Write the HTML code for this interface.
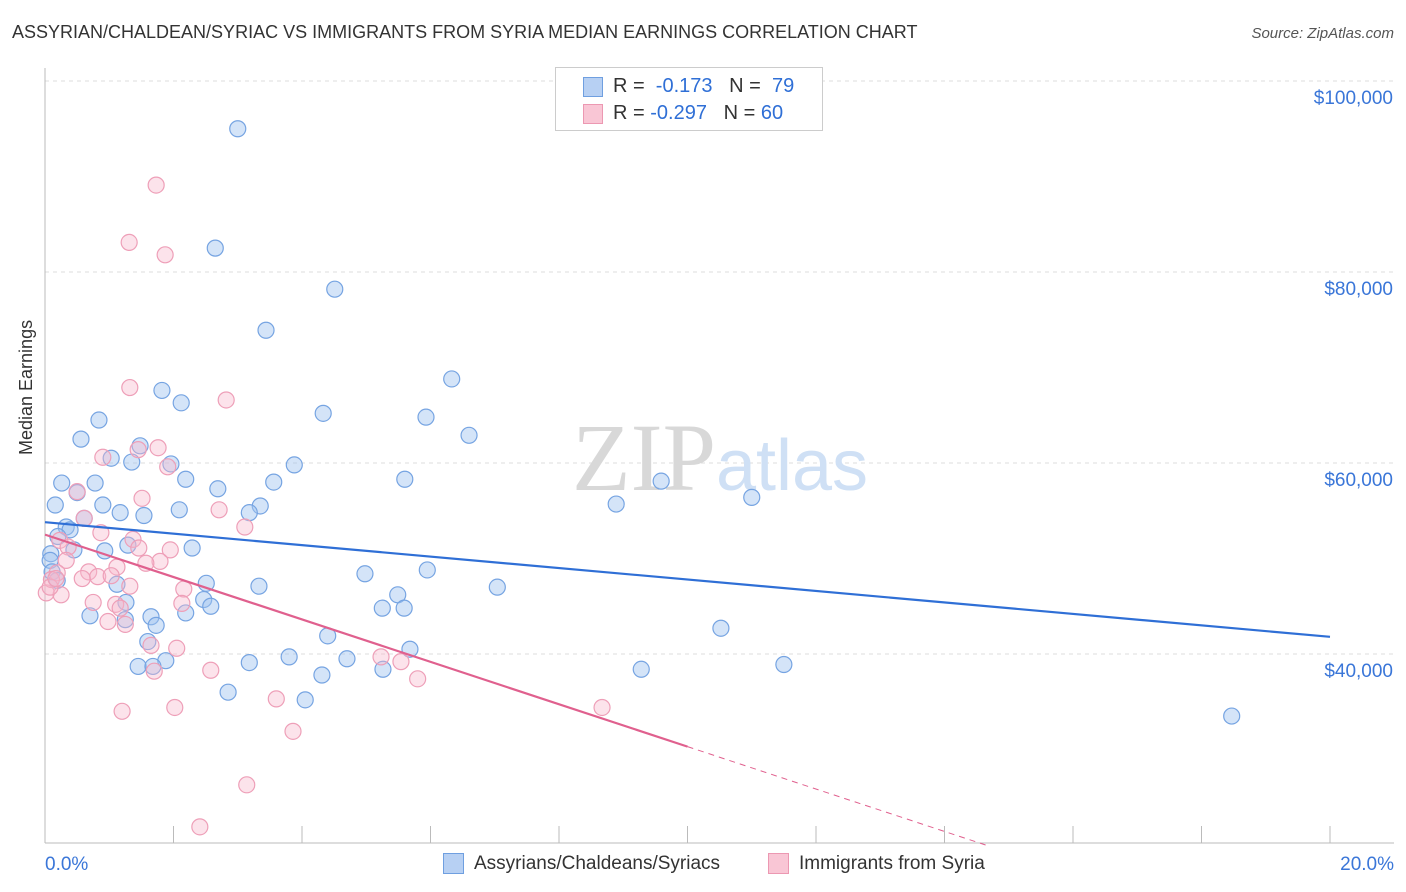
<!DOCTYPE html>
<html><head><meta charset="utf-8"><style>
body{margin:0;background:#fff;font-family:"Liberation Sans",sans-serif;}
#wrap{position:relative;width:1406px;height:892px;overflow:hidden;}
.t{position:absolute;white-space:nowrap;}
</style></head><body>
<div id="wrap">
<div class="t" style="left:12px;top:22px;font-size:18px;color:#333;">ASSYRIAN/CHALDEAN/SYRIAC VS IMMIGRANTS FROM SYRIA MEDIAN EARNINGS CORRELATION CHART</div>
<div class="t" style="right:12px;top:25px;font-size:15px;color:#555;font-style:italic;">Source: ZipAtlas.com</div>
<div class="t" style="left:16px;top:455px;font-size:18px;color:#333;transform:rotate(-90deg);transform-origin:0 0;">Median Earnings</div>
<svg id="svg" width="1406" height="892" style="position:absolute;left:0;top:0"></svg>
<div class="t" style="left:555px;top:67px;width:266px;height:62px;border:1px solid #ccc;background:#fff;">
 <div style="position:absolute;left:27px;top:9px;width:18px;height:18px;background:#b7d0f3;border:1px solid #6f9fe0;"></div>
 <div style="position:absolute;left:27px;top:36px;width:18px;height:18px;background:#f9c6d5;border:1px solid #ec98b2;"></div>
 <div class="t" style="left:57px;top:7px;font-size:20px;color:#333;">R = &nbsp;<span style="color:#2f6fd6">-0.173</span> &nbsp;&nbsp;N = &nbsp;<span style="color:#2f6fd6">79</span></div>
 <div class="t" style="left:57px;top:34px;font-size:20px;color:#333;">R = <span style="color:#2f6fd6">-0.297</span> &nbsp;&nbsp;N = <span style="color:#2f6fd6">60</span></div>
</div>
<div style="position:absolute;left:443px;top:853px;width:19px;height:19px;background:#b7d0f3;border:1px solid #6f9fe0;"></div>
<div class="t" style="left:474px;top:853px;font-size:19px;color:#333;">Assyrians/Chaldeans/Syriacs</div>
<div style="position:absolute;left:768px;top:853px;width:19px;height:19px;background:#f9c6d5;border:1px solid #ec98b2;"></div>
<div class="t" style="left:799px;top:853px;font-size:19px;color:#333;">Immigrants from Syria</div>
</div>
<script>
const yTicks=[40,60,80,100];
const yTickLabels=["$40,000","$60,000","$80,000","$100,000"];
const xTickVals=[0,2,4,6,8,10,12,14,16,18,20];
const blueX=[3.00,2.65,4.51,3.44,6.33,1.82,2.12,4.33,5.93,0.84,6.60,0.56,1.48,1.03,1.35,1.96,3.88,2.19,5.60,9.59,0.26,0.78,3.56,2.69,0.50,11.00,0.16,0.90,8.89,3.35,2.09,1.17,1.54,3.18,0.61,0.33,0.39,0.20,1.29,2.29,0.45,0.93,0.09,4.98,5.95,5.49,2.51,3.33,7.04,1.12,1.26,2.47,2.58,5.25,5.59,2.19,0.70,1.65,1.25,1.73,10.52,4.40,1.60,5.68,3.80,4.70,1.88,3.18,1.45,1.68,11.50,5.26,9.28,4.31,2.85,4.05,18.47,0.08,0.11,0.19];
const blueY=[95.0,82.5,78.2,73.9,68.8,67.6,66.3,65.2,64.8,64.5,62.9,62.5,61.8,60.5,60.1,59.9,59.8,58.3,58.3,58.1,57.9,57.9,58.0,57.3,56.9,56.4,55.6,55.6,55.7,55.5,55.1,54.8,54.5,54.8,54.2,53.3,53.0,52.3,51.4,51.1,50.9,50.8,50.5,48.4,48.8,46.2,47.4,47.1,47.0,47.3,45.4,45.7,45.0,44.8,44.8,44.3,44.0,43.9,43.6,43.0,42.7,41.9,41.3,40.5,39.7,39.5,39.3,39.1,38.7,38.7,38.9,38.4,38.4,37.8,36.0,35.2,33.5,49.8,48.6,47.7];
const pinkX=[1.73,1.31,1.87,1.32,2.82,1.76,1.45,0.90,1.91,0.50,1.51,2.71,0.61,3.11,0.87,1.37,0.23,0.36,1.46,1.95,1.79,0.33,1.57,1.12,0.68,0.19,0.82,1.03,0.58,1.32,2.16,0.02,0.25,0.75,1.10,2.13,1.17,0.98,1.25,2.05,1.65,5.23,5.54,1.70,2.58,5.80,3.60,8.67,2.02,1.20,3.86,3.14,2.41,0.10,0.08,0.17];
const pinkY=[89.1,83.1,81.8,67.9,66.6,61.6,61.4,60.6,59.6,57.0,56.3,55.1,54.2,53.3,52.7,52.0,51.9,51.2,51.1,50.9,49.7,49.8,49.5,49.1,48.6,48.5,48.1,48.2,47.9,47.1,46.8,46.4,46.2,45.4,45.2,45.3,44.8,43.4,43.1,40.6,40.9,39.7,39.2,38.2,38.3,37.4,35.3,34.4,34.4,34.0,31.9,26.3,21.9,47.8,47.0,47.9];
const blueFit=[53.8,41.8];   // value at x=0 and x=20
const pinkFit=[52.5,-2.22];  // intercept, slope per %
const X=v=>45+v/20*1285;
const Y=v=>463-(v-60)*9.55;
const svg=document.getElementById('svg');
const NS='http://www.w3.org/2000/svg';
function mk(tag,at){const e=document.createElementNS(NS,tag);for(const k in at)e.setAttribute(k,at[k]);svg.appendChild(e);return e;}
yTicks.forEach((t,i)=>{
 const g=mk('line',{x1:45,x2:1394,y1:Y(t),y2:Y(t),stroke:'#ddd','stroke-dasharray':'4,4'});
 
 
 const l=mk('text',{x:1393,y:Y(t)+23,'text-anchor':'end','font-size':19,fill:'#3a76d8','font-family':'Liberation Sans'});
 l.textContent=yTickLabels[i];
 
 
});
const ax=mk('line',{x1:45,x2:45,y1:68,y2:843,stroke:'#bbb'});


const bx=mk('line',{x1:45,x2:1394,y1:843,y2:843,stroke:'#bbb'});


xTickVals.forEach(v=>{
 const t=mk('line',{x1:X(v),x2:X(v),y1:826,y2:843,stroke:'#bbb'});
 
 
});
[[0,'0.0%','start',45],[20,'20.0%','end',1394]].forEach(a=>{
 const l=mk('text',{x:a[3],y:870,'text-anchor':a[2],'font-size':19,fill:'#3a76d8','font-family':'Liberation Sans'});
 l.textContent=a[1];
 
 
});
const wm=mk('text',{x:720,y:490,'text-anchor':'middle','font-size':96,'font-family':'Liberation Serif',fill:'#d8d8d8'});
wm.innerHTML='ZIP<tspan fill="#cfe0f5" font-family="Liberation Sans" font-size="72">atlas</tspan>';


blueX.forEach((x,i)=>{
 const c=mk('circle',{cx:X(x),cy:Y(blueY[i]),r:8,fill:'rgba(160,196,240,0.45)',stroke:'#76a4e2','stroke-width':1.2});
 
 
});
pinkX.forEach((x,i)=>{
 const c=mk('circle',{cx:X(x),cy:Y(pinkY[i]),r:8,fill:'rgba(247,184,204,0.4)',stroke:'#ee9fb8','stroke-width':1.2});
 
 
});
const bl=mk('line',{x1:X(0),y1:Y(blueFit[0]),x2:X(20),y2:Y(blueFit[1]),stroke:'#2f6fd6','stroke-width':2.2});


const pf=x=>pinkFit[0]+pinkFit[1]*x;
const pl=mk('line',{x1:X(0),y1:Y(pf(0)),x2:X(10),y2:Y(pf(10)),stroke:'#e0608e','stroke-width':2.2});


const xe=(20-pinkFit[0])/pinkFit[1];
const pd=mk('line',{x1:X(10),y1:Y(pf(10)),x2:X(xe),y2:Y(20),stroke:'#e0608e','stroke-width':1,'stroke-dasharray':'6,5'});


</script>
</body></html>
